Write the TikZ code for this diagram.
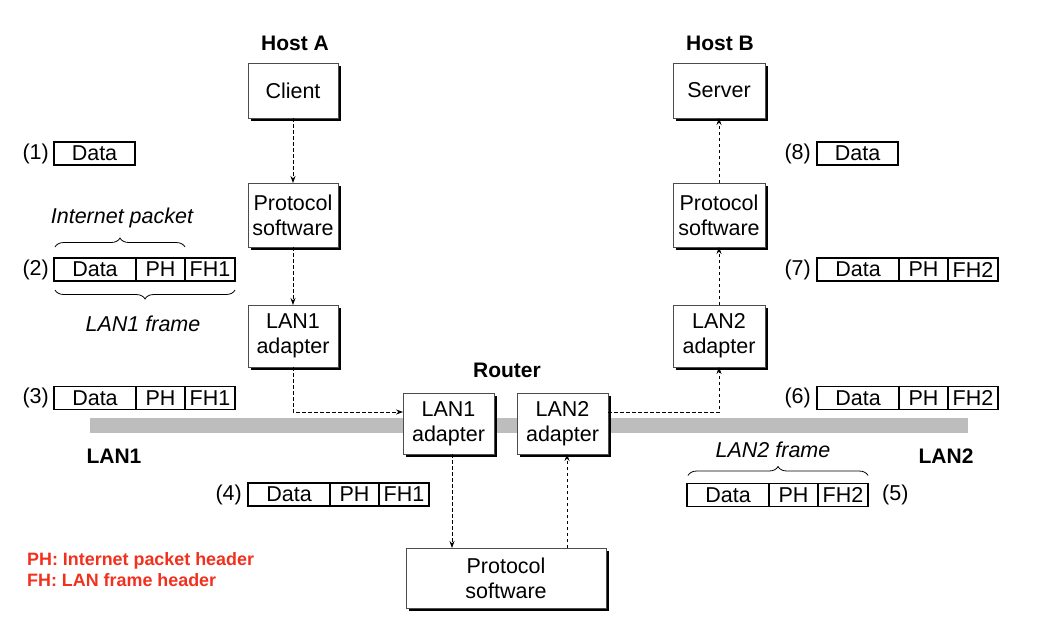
\documentclass[tikz,border=0pt]{standalone}
\usepackage{fontspec}
\setmainfont{Liberation Sans}
\usetikzlibrary{arrows.meta,shadows,decorations.pathreplacing,calc}
\definecolor{lanbar}{HTML}{BDBDBD}
\definecolor{legendred}{HTML}{F2301E}
\begin{document}
\begin{tikzpicture}[x=1pt,y=-1pt,
  txt/.style={font=\fontsize{21.5}{25}\selectfont},
  boxnode/.style={txt, draw=black!70, line width=0.7pt, fill=white, align=center,
    inner sep=0pt, outer sep=0pt,
    drop shadow={shadow xshift=2.6pt, shadow yshift=-2.6pt, fill=black, opacity=1}},
  pkt/.style={txt, draw=black, line width=1.8pt, fill=white, inner sep=0pt,
    outer sep=0pt, minimum height=23pt},
  hdr/.style={font=\fontsize{21}{25}\selectfont\bfseries},
  flow/.style={dash pattern=on 3.5pt off 2.5pt, line width=0.8pt,
    -{Stealth[length=7pt,width=5pt]}},
  brc/.style={decorate, decoration={brace, amplitude=9pt}, line width=0.8pt},
  lbl/.style={txt, inner sep=0pt},
  captext/.style={font=\fontsize{21.5}{25}\selectfont\itshape}]
\useasboundingbox (0,0) rectangle (1048,627);

% the two LAN segments
\fill[lanbar] (90,418) rectangle (968,433);
\node[hdr] (lan1) at (114,456) {LAN1};
\node[hdr] (lan2) at (946,456) {LAN2};

% host A
\node[hdr] (hosta) at (295,43) {Host A};
\node[boxnode, minimum width=90pt, minimum height=55pt] (client) at (293,90.5) {Client};
\node[boxnode, minimum width=90pt, minimum height=64pt] (psa) at (293,215) {Protocol\\software};
\node[boxnode, minimum width=90pt, minimum height=62pt] (ada) at (293,336) {LAN1\\adapter};

% host B
\node[hdr] (hostb) at (720,43) {Host B};
\node[boxnode, minimum width=92pt, minimum height=55pt] (server) at (719,90.5) {Server};
\node[boxnode, minimum width=92pt, minimum height=64pt] (psb) at (719,215) {Protocol\\software};
\node[boxnode, minimum width=92pt, minimum height=62pt] (adb) at (719,336) {LAN2\\adapter};

% router
\node[hdr] (router) at (507,370) {Router};
\node[boxnode, minimum width=91pt, minimum height=61pt] (r1) at (448.5,423.5) {LAN1\\adapter};
\node[boxnode, minimum width=91pt, minimum height=61pt] (r2) at (562.5,423.5) {LAN2\\adapter};
\node[boxnode, minimum width=200pt, minimum height=60pt] (rps) at (506,578) {Protocol\\software};

% packet rows: Data | PH | FH
\newcommand{\pktrow}[4]{%
  \node[pkt, minimum width=82pt, anchor=west] (#4d) at (#1,#2) {Data};
  \node[pkt, minimum width=49pt, anchor=west] (#4p) at (#4d.east) {PH};
  \node[pkt, minimum width=50pt, anchor=west] (#4f) at (#4p.east) {#3};}

% (1) and (8): data only
\node[pkt, minimum width=81pt, anchor=west] (p1) at (54,153.5) {Data};
\node[lbl, anchor=east] (n1) at (49,153.5) {(1)};
\node[pkt, minimum width=81pt, anchor=west] (p8) at (817,153.5) {Data};
\node[lbl, anchor=east] (n8) at (811,153.5) {(8)};

\pktrow{54}{269.5}{FH1}{q2}
\node[lbl, anchor=east] (n2) at (49,269.5) {(2)};
\pktrow{54}{398}{FH1}{q3}
\node[lbl, anchor=east] (n3) at (49,398) {(3)};
\pktrow{248}{494.5}{FH1}{q4}
\node[lbl, anchor=east] (n4) at (242,494.5) {(4)};
\pktrow{687}{495}{FH2}{q5}
\node[lbl, anchor=west] (n5) at (882,495) {(5)};
\pktrow{817}{398}{FH2}{q6}
\node[lbl, anchor=east] (n6) at (811,398) {(6)};
\pktrow{817}{269.5}{FH2}{q7}
\node[lbl, anchor=east] (n7) at (811,269.5) {(7)};

% braces with their captions
\draw[brc] ([shift={(1pt,11pt)}]q2d.north west) -- ([shift={(0pt,11pt)}]q2p.north east);
\node[captext] (ip) at (122,218) {Internet packet};
\draw[brc] ([shift={(0pt,-9pt)}]q2f.south east) -- ([shift={(1pt,-9pt)}]q2d.south west);
\node[captext] (f1) at (143,324) {LAN1 frame};
\draw[brc] ([shift={(1pt,8pt)}]q5d.north west) -- ([shift={(0pt,8pt)}]q5f.north east);
\node[captext] (f2) at (773,450) {LAN2 frame};

% data flow
\draw[flow] (client) -- (psa);
\draw[flow] (psa) -- (ada);
\draw[flow] (ada.south) |- ([yshift=11.5pt]r1.west);
\draw[flow] ([xshift=3.5pt]r1.south) -- ([xshift=3.5pt]r1.south |- rps.north);
\draw[flow] ([xshift=4.5pt]rps.north -| r2.south) -- ([xshift=4.5pt]r2.south);
\draw[flow] ([yshift=11.5pt]r2.east) -| (adb.south);
\draw[flow] (adb) -- (psb);
\draw[flow] (psb) -- (server);

% legend
\node[anchor=west, text=legendred, font=\fontsize{17.9}{21}\selectfont\bfseries, align=left, inner sep=0pt] (legend) at (27,569.5)
  {PH: Internet packet header\\FH: LAN frame header};
\end{tikzpicture}
\end{document}
